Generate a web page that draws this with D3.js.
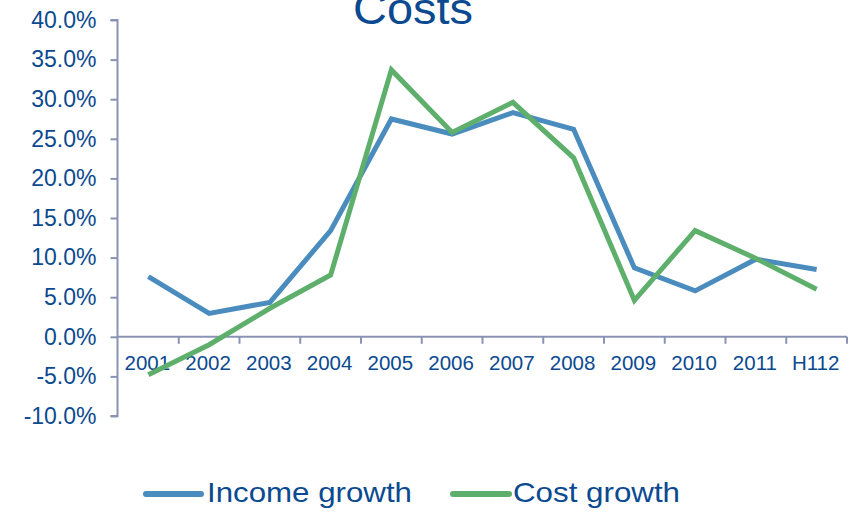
<!DOCTYPE html>
<html>
<head>
<meta charset="utf-8">
<script src="https://cdn.jsdelivr.net/npm/d3@7"></script>
<style>
  html, body { margin: 0; padding: 0; background: #fff; }
  svg { display: block; font-family: "Liberation Sans", Arial, sans-serif; }
</style>
</head>
<body>
<svg id="chart" width="854" height="512"></svg>
<script>
const categories = ["2001","2002","2003","2004","2005","2006","2007","2008","2009","2010","2011","H112"];
const incomeGrowth = [7.6, 2.95, 4.35, 13.4, 27.5, 25.6, 28.3, 26.2, 8.7, 5.8, 9.8, 8.5];
const costGrowth   = [-4.8, -1.0, 3.6, 7.8, 33.7, 25.8, 29.6, 22.6, 4.6, 13.4, 9.9, 6.0];
const yTicks = [-10, -5, 0, 5, 10, 15, 20, 25, 30, 35, 40];
const seriesNames = ["Income growth", "Cost growth"];
const seriesColors = ["#4a8cbe", "#5eaf6b"];
const title = "Costs";

const textColor = "#0b4a90";
const axisColor = "#8a93b3";

const svg = d3.select("#chart");

const x = d3.scaleBand().domain(categories).range([118, 847]);
const y = d3.scaleLinear().domain([-10, 40]).range([416, 20]);

// Title
svg.append("text")
  .attr("x", 413).attr("y", 24)
  .attr("text-anchor", "middle")
  .attr("fill", textColor)
  .attr("font-size", 44)
  .attr("textLength", 120)
  .attr("lengthAdjust", "spacingAndGlyphs")
  .text(title);

// Y axis
const yAxis = d3.axisLeft(y)
  .tickValues(yTicks)
  .tickSize(7)
  .tickPadding(14)
  .tickFormat(d => d.toFixed(1) + "%");
const gy = svg.append("g").attr("transform", "translate(117.5,0)").call(yAxis);
gy.select(".domain").attr("stroke", axisColor).attr("stroke-width", 2).attr("d", `M-7,${y(40)}H0V${y(-10)}H-7`);
gy.selectAll(".tick line").attr("stroke", axisColor).attr("stroke-width", 2);
gy.selectAll(".tick text").attr("fill", textColor).attr("font-size", 23)
  .attr("font-family", '"Liberation Sans", Arial, sans-serif');

// X axis line at 0
const y0 = y(0);
svg.append("line")
  .attr("x1", x.range()[0]).attr("x2", x.range()[1])
  .attr("y1", y0).attr("y2", y0)
  .attr("stroke", axisColor).attr("stroke-width", 2);

// X boundary ticks
const boundaries = categories.map(c => x(c)).concat([x.range()[1]]);
svg.append("g").selectAll("line").data(boundaries.slice(1)).join("line")
  .attr("x1", d => d).attr("x2", d => d)
  .attr("y1", y0).attr("y2", y0 + 7)
  .attr("stroke", axisColor).attr("stroke-width", 2);

// X labels
svg.append("g").selectAll("text").data(categories).join("text")
  .attr("x", d => x(d) + x.bandwidth() / 2 - 1)
  .attr("y", 370)
  .attr("text-anchor", "middle")
  .attr("fill", textColor)
  .attr("font-size", 20.5)
  .text(d => d);

// Lines
const line = d3.line()
  .x((d, i) => x(categories[i]) + x.bandwidth() / 2)
  .y(d => y(d));

[incomeGrowth, costGrowth].forEach((s, k) => {
  svg.append("path")
    .datum(s)
    .attr("fill", "none")
    .attr("stroke", seriesColors[k])
    .attr("stroke-width", 5)
    .attr("stroke-linejoin", "miter")
    .attr("stroke-linecap", "butt")
    .attr("d", line);
});

// Legend
const legendItems = [
  { x1: 146, x2: 201, tx: 207, tl: 205 },
  { x1: 453, x2: 509, tx: 513, tl: 167 }
];
legendItems.forEach((li, k) => {
  svg.append("line")
    .attr("x1", li.x1).attr("x2", li.x2)
    .attr("y1", 494).attr("y2", 494)
    .attr("stroke", seriesColors[k])
    .attr("stroke-width", 6)
    .attr("stroke-linecap", "round");
  svg.append("text")
    .attr("x", li.tx).attr("y", 502)
    .attr("fill", textColor)
    .attr("font-size", 28)
    .attr("textLength", li.tl)
    .attr("lengthAdjust", "spacingAndGlyphs")
    .text(seriesNames[k]);
});
</script>
</body>
</html>
